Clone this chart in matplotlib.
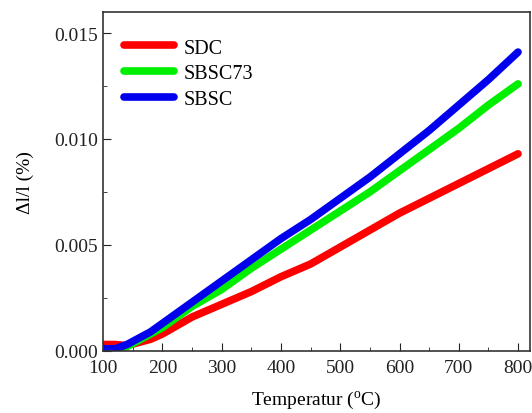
import matplotlib.pyplot as plt
import numpy as np

plt.rcParams['font.family'] = ['Liberation Serif', 'DejaVu Serif']
plt.rcParams['mathtext.fontset'] = 'custom'
plt.rcParams['mathtext.rm'] = 'Liberation Serif'

temp = [100, 120, 140, 160, 180, 200, 225, 250, 275, 300, 350, 400,
        450, 500, 550, 600, 650, 700, 750, 800]
sdc = [0.0003, 0.0003, 0.00025, 0.0004, 0.00055, 0.0008, 0.0012, 0.0016,
       0.0019, 0.0022, 0.0028, 0.0035, 0.0041, 0.0049, 0.0057, 0.0065,
       0.0072, 0.0079, 0.0086, 0.0093]
sbsc73 = [0.0, 0.0, 0.0002, 0.0005, 0.0008, 0.0011, 0.0016, 0.0021,
          0.0025, 0.0029, 0.0039, 0.0048, 0.0057, 0.0066, 0.0075, 0.0085,
          0.0095, 0.0105, 0.0116, 0.0126]
sbsc = [0.0001, 0.0001, 0.0003, 0.0006, 0.0009, 0.0013, 0.0018, 0.0023,
        0.0028, 0.0033, 0.0043, 0.0053, 0.0062, 0.0072, 0.0082, 0.0093,
        0.0104, 0.0116, 0.0128, 0.0141]

fig = plt.figure(figsize=(5.32, 4.14), dpi=100)
ax = fig.add_axes([0.194, 0.150, 0.802, 0.819])

ax.plot(temp, sdc, c='#ff0000', lw=5.5, solid_capstyle='round', label="SDC")
ax.plot(temp, sbsc73, c='#00ee00', lw=5.5, solid_capstyle='round', label="SBSC73")
ax.plot(temp, sbsc, c='#0000ee', lw=5.5, solid_capstyle='round', label="SBSC")

ax.set_xlim(100, 820)
ax.set_ylim(0, 0.016)
ax.set_xticks(np.arange(100, 801, 100))
ax.set_xticks(np.arange(150, 801, 100), minor=True)
ax.set_yticks([0.0, 0.005, 0.010, 0.015])
ax.set_yticklabels(['0.000', '0.005', '0.010', '0.015'])
ax.set_yticks([0.0025, 0.0075, 0.0125], minor=True)
ax.tick_params(which='both', direction='in', labelsize=14, colors='#222222')
ax.tick_params(which='major', length=6)
ax.tick_params(axis='x', which='major', pad=6)
ax.tick_params(axis='y', which='major', pad=4)
ax.tick_params(which='minor', length=3)
for s in ax.spines.values():
    s.set_color('#333333')
    s.set_linewidth(1.2)

ax.set_xlabel("Temperatur ($^\\mathrm{o}$C)", fontsize=14, labelpad=9)
ax.set_ylabel("Δl/l (%)", fontsize=14, labelpad=14)
ax.legend(loc='upper left', frameon=False, fontsize=14.5, handlelength=2.5,
          handletextpad=0.45, labelspacing=0.32, borderaxespad=0.5,
          bbox_to_anchor=(0.006, 0.975))

fig.savefig("out.png", dpi=100)
